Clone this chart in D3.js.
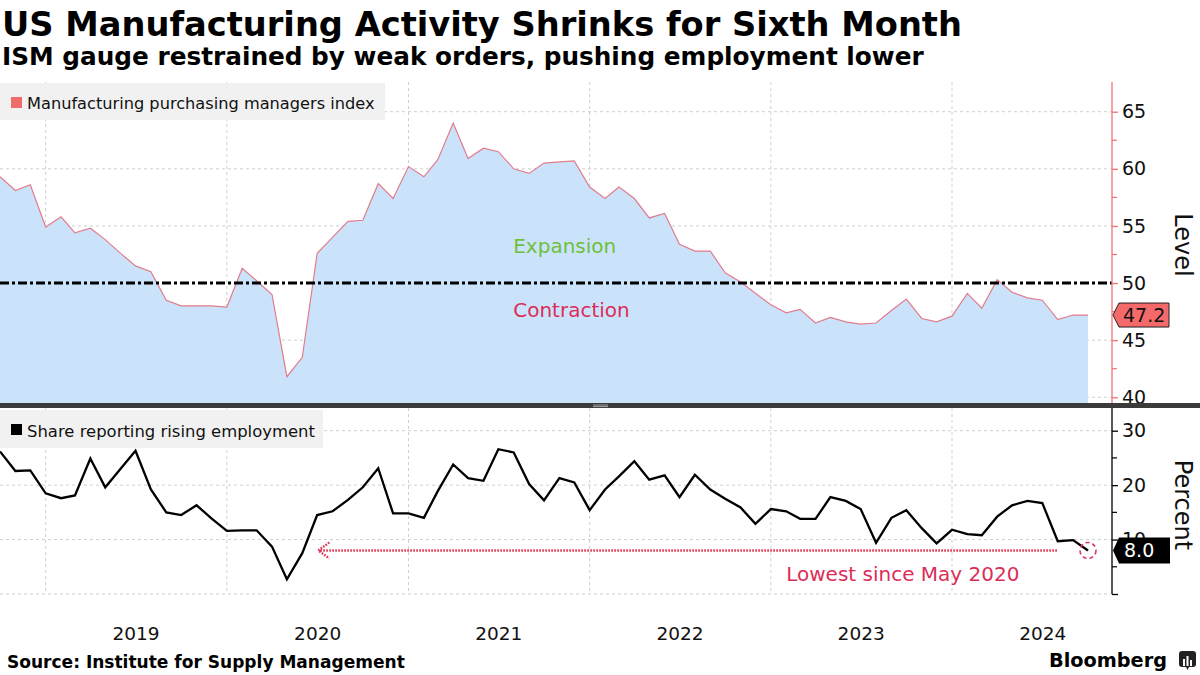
<!DOCTYPE html>
<html><head><meta charset="utf-8">
<script src="https://cdn.jsdelivr.net/npm/d3@7/dist/d3.min.js"></script>
<style>
body{margin:0;background:#fff;}
svg{display:block;font-family:"DejaVu Sans",Verdana,sans-serif;}
</style>
</head><body>
<svg id="c" width="1200" height="675"></svg>
<script>
// ---------- data (monthly, Sep 2018 - Sep 2024) ----------
const firstMonth = new Date(2018, 8, 1);
const pmi = [
  59.3, 58.1, 58.6, 54.9,
  55.8, 54.4, 54.8, 53.8, 52.6, 51.5, 51.0, 48.5, 48.0, 48.0, 48.0, 47.9,
  51.3, 50.2, 49.0, 41.8, 43.5, 52.6, 54.0, 55.4, 55.5, 58.7, 57.4, 60.2,
  59.3, 60.8, 64.0, 60.9, 61.8, 61.5, 60.0, 59.6, 60.5, 60.6, 60.7, 58.4,
  57.4, 58.4, 57.4, 55.7, 56.1, 53.4, 52.8, 52.8, 50.9, 50.1, 49.1, 48.1,
  47.4, 47.7, 46.5, 47.0, 46.6, 46.4, 46.5, 47.6, 48.6, 46.9, 46.6, 47.1,
  49.1, 47.8, 50.3, 49.2, 48.7, 48.5, 46.8, 47.2, 47.2
];
const employment = [
  26.2, 22.6, 22.7, 18.5,
  17.6, 18.1, 24.9, 19.6, 23.0, 26.3, 19.2, 15.0, 14.5, 16.3, 13.9, 11.6,
  11.7, 11.7, 8.7, 2.7, 7.5, 14.5, 15.2, 17.3, 19.6, 23.1, 14.8, 14.8,
  14.0, 18.9, 23.8, 21.3, 20.8, 26.6, 26.0, 20.2, 17.2, 21.3, 20.5, 15.4,
  19.2, 21.6, 24.4, 21.0, 21.8, 17.8, 21.9, 19.2, 17.5, 15.9, 12.9, 15.6,
  15.2, 13.8, 13.8, 17.8, 17.1, 15.6, 9.4, 14.0, 15.4, 12.1, 9.3, 11.8,
  11.0, 10.8, 14.2, 16.3, 17.1, 16.7, 9.7, 9.9, 8.0
];
const pmiTicks = [40, 45, 50, 55, 60, 65];
const pmiMinorTicks = [42.5, 47.5, 52.5, 57.5, 62.5];
const empTicks = [0, 10, 20, 30];
const empMinorTicks = [5, 15, 25];
const years = [2019, 2020, 2021, 2022, 2023, 2024];
const threshold = 50;
const lastPmiLabel = "47.2";
const lastEmpLabel = "8.0";

// month-end plotting: each monthly value sits at the start of the following month
const dates = pmi.map((_, i) => d3.timeMonth.offset(firstMonth, i + 1));

const svg = d3.select("#c");
const W = 1200;
const axisX = 1112;
const top1 = 82, bot1 = 403, top2 = 408, bot2 = 594;

const x = d3.scaleTime().domain([dates[0], dates[dates.length - 1]]).range([0, 1088]);
const y1 = d3.scaleLinear().domain([39.5, 67.6]).range([bot1, top1]);
const y2 = d3.scaleLinear().domain([0, 34.17]).range([bot2, top2]);

function fit(sel, w) {
  const cur = sel.node().getComputedTextLength();
  const fs = parseFloat(sel.attr("font-size"));
  sel.attr("font-size", (fs * w / cur).toFixed(2));
  return sel;
}

// ---------- titles ----------
fit(svg.append("text").attr("x", 2).attr("y", 36).attr("font-size", 30).attr("font-weight", "bold")
  .attr("fill", "#000").text("US Manufacturing Activity Shrinks for Sixth Month"), 960);
fit(svg.append("text").attr("x", 2).attr("y", 65).attr("font-size", 22).attr("font-weight", "bold")
  .attr("fill", "#000").text("ISM gauge restrained by weak orders, pushing employment lower"), 922);

// ---------- grids ----------
const grid = svg.append("g").attr("stroke", "#cfcfcf").attr("stroke-dasharray", "3,3").attr("stroke-width", 1);
pmiTicks.forEach(v => grid.append("line").attr("x1", 0).attr("x2", axisX).attr("y1", y1(v)).attr("y2", y1(v)));
empTicks.forEach(v => grid.append("line").attr("x1", 0).attr("x2", axisX).attr("y1", y2(v)).attr("y2", y2(v)));
years.forEach(yr => {
  const xx = x(new Date(yr, 0, 1));
  grid.append("line").attr("x1", xx).attr("x2", xx).attr("y1", top1).attr("y2", bot1);
  grid.append("line").attr("x1", xx).attr("x2", xx).attr("y1", top2).attr("y2", bot2);
});

// ---------- top panel ----------
const area = d3.area().x((d, i) => x(dates[i])).y0(bot1).y1(d => y1(d));
svg.append("path").datum(pmi).attr("d", area).attr("fill", "#cae3fb");
const line1 = d3.line().x((d, i) => x(dates[i])).y(d => y1(d));
svg.append("path").datum(pmi).attr("d", line1).attr("fill", "none").attr("stroke", "#e27c8c").attr("stroke-width", 1.2);

svg.append("line").attr("x1", 0).attr("x2", axisX).attr("y1", y1(threshold)).attr("y2", y1(threshold))
  .attr("stroke", "#000").attr("stroke-width", 3).attr("stroke-dasharray", "9,3,3,3");

svg.append("text").attr("x", x(new Date(2021, 6, 31))).attr("y", y1(52.6)).attr("font-size", 20)
  .attr("fill", "#6fbf3c").text("Expansion");
svg.append("text").attr("x", x(new Date(2021, 6, 31))).attr("y", y1(47.0)).attr("font-size", 20)
  .attr("fill", "#dc2d58").text("Contraction");

// legend 1
svg.append("rect").attr("x", 0).attr("y", 83).attr("width", 385).attr("height", 37).attr("fill", "#f1f1f1");
svg.append("rect").attr("x", 11).attr("y", 97).attr("width", 11).attr("height", 11).attr("fill", "#f26b6b");
fit(svg.append("text").attr("x", 27).attr("y", 109).attr("font-size", 16).attr("fill", "#111")
  .text("Manufacturing purchasing managers index"), 348);

// axis 1
const ax1 = svg.append("g").attr("transform", `translate(${axisX},0)`)
  .call(d3.axisRight(y1).tickValues(pmiTicks).tickSize(6).tickPadding(4));
ax1.select(".domain").attr("d", `M0,${top1}V${bot1}`);
ax1.selectAll("path,line").attr("stroke", "#f07272").attr("stroke-width", 1.3);
ax1.selectAll("text").attr("font-size", 19).attr("fill", "#111").attr("font-family", "DejaVu Sans");
svg.append("g").attr("transform", `translate(${axisX},0)`).selectAll("line").data(pmiMinorTicks).join("line")
  .attr("x1", 0).attr("x2", 5).attr("y1", d => y1(d)).attr("y2", d => y1(d)).attr("stroke", "#f07272").attr("stroke-width", 1.2);
svg.append("text").attr("transform", `translate(1175,245) rotate(90)`)
  .attr("text-anchor", "middle").attr("font-size", 24).attr("fill", "#111").text("Level");

// tag 47.2
const ty1 = y1(pmi[pmi.length - 1]);
svg.append("path").attr("d", `M${axisX + 1},${ty1} L${axisX + 7},${ty1 - 12} H1169 V${ty1 + 12} H${axisX + 7} Z`)
  .attr("fill", "#f46a6a").attr("stroke", "#222").attr("stroke-width", 1);
svg.append("text").attr("x", 1123).attr("y", ty1).attr("dy", "0.36em").attr("font-size", 19).attr("fill", "#111").text(lastPmiLabel);

// ---------- separator ----------
svg.append("rect").attr("x", 0).attr("y", bot1).attr("width", W).attr("height", 5).attr("fill", "#3b3b3b");
svg.append("line").attr("x1", 593).attr("x2", 608).attr("y1", 405).attr("y2", 405).attr("stroke", "#bbb").attr("stroke-width", 0.8);
svg.append("line").attr("x1", 593).attr("x2", 608).attr("y1", 406.6).attr("y2", 406.6).attr("stroke", "#bbb").attr("stroke-width", 0.8);

// ---------- bottom panel ----------
const line2 = d3.line().x((d, i) => x(dates[i])).y(d => y2(d));
svg.append("path").datum(employment).attr("d", line2).attr("fill", "none").attr("stroke", "#000").attr("stroke-width", 2.3).attr("stroke-linejoin", "miter");

// legend 2
svg.append("rect").attr("x", 0).attr("y", 410).attr("width", 323).attr("height", 38).attr("fill", "#f1f1f1");
svg.append("rect").attr("x", 11).attr("y", 424).attr("width", 11).attr("height", 11).attr("fill", "#000");
fit(svg.append("text").attr("x", 27).attr("y", 436.5).attr("font-size", 16).attr("fill", "#111")
  .text("Share reporting rising employment"), 288);

// annotation
const lastIdx = employment.length - 1;
const yLow = y2(employment[lastIdx]);
const red = "#e0304f";
const tipX = x(dates[20]) + 16;
svg.append("line").attr("x1", tipX + 2).attr("x2", x(dates[70])).attr("y1", yLow).attr("y2", yLow)
  .attr("stroke", red).attr("stroke-width", 2.6).attr("stroke-dasharray", "1.6,1.4");
svg.append("path").attr("d", `M${tipX + 11},${yLow - 8} L${tipX},${yLow} L${tipX + 11},${yLow + 8}`)
  .attr("fill", "none").attr("stroke", red).attr("stroke-width", 2.4).attr("stroke-dasharray", "1.6,1.4");
svg.append("circle").attr("cx", x(dates[lastIdx])).attr("cy", yLow).attr("r", 8)
  .attr("fill", "none").attr("stroke", "#d83a62").attr("stroke-width", 1.6).attr("stroke-dasharray", "4,3");
svg.append("text").attr("x", x(dates[52])).attr("y", yLow + 31).attr("font-size", 20).attr("fill", "#dc2d58")
  .text("Lowest since May 2020");

// axis 2
const ax2 = svg.append("g").attr("transform", `translate(${axisX},0)`)
  .call(d3.axisRight(y2).tickValues(empTicks).tickSize(6).tickPadding(4).tickFormat(d => d === 0 ? "" : d));
ax2.select(".domain").attr("d", `M0,${top2}V${bot2}`);
ax2.selectAll("path,line").attr("stroke", "#000").attr("stroke-width", 1.3);
ax2.selectAll("text").attr("font-size", 19).attr("fill", "#111").attr("font-family", "DejaVu Sans");
svg.append("g").attr("transform", `translate(${axisX},0)`).selectAll("line").data(empMinorTicks).join("line")
  .attr("x1", 0).attr("x2", 5).attr("y1", d => y2(d)).attr("y2", d => y2(d)).attr("stroke", "#000").attr("stroke-width", 1.2);
svg.append("text").attr("transform", `translate(1175,505) rotate(90)`)
  .attr("text-anchor", "middle").attr("font-size", 24).attr("fill", "#111").text("Percent");

// tag 8.0
svg.append("path").attr("d", `M${axisX + 1},${yLow} L${axisX + 7},${yLow - 13} H1170 V${yLow + 13} H${axisX + 7} Z`)
  .attr("fill", "#000");
svg.append("text").attr("x", 1124).attr("y", yLow).attr("dy", "0.36em").attr("font-size", 19).attr("fill", "#fff").text(lastEmpLabel);

// x axis year labels
const xAxis = svg.append("g").attr("transform", `translate(0,${bot2})`)
  .call(d3.axisBottom(x).tickValues(years.map(yr => new Date(yr, 6, 1))).tickSize(0).tickPadding(33).tickFormat(d3.timeFormat("%Y")));
xAxis.select(".domain").remove();
xAxis.selectAll("text").attr("font-size", 18.5).attr("fill", "#111").attr("font-family", "DejaVu Sans");

// ---------- footer ----------
fit(svg.append("text").attr("x", 7).attr("y", 668).attr("font-size", 16).attr("font-weight", "bold").attr("fill", "#000")
  .text("Source: Institute for Supply Management"), 398);
fit(svg.append("text").attr("x", 1049).attr("y", 667).attr("font-size", 22).attr("font-weight", "bold").attr("fill", "#000")
  .text("Bloomberg"), 118);
const logo = svg.append("g").attr("transform", "translate(1179,651)");
logo.append("rect").attr("width", 17).attr("height", 16).attr("rx", 3).attr("fill", "#222");
logo.append("path").attr("d", "M7,16 L8.5,19 L10,16 Z").attr("fill", "#222");
[[4, 8, 7], [7.5, 5, 10], [11, 9, 6]].forEach(([bx, by, bh]) =>
  logo.append("rect").attr("x", bx).attr("y", by).attr("width", 2).attr("height", bh).attr("fill", "#fff"));
</script>
</body></html>
